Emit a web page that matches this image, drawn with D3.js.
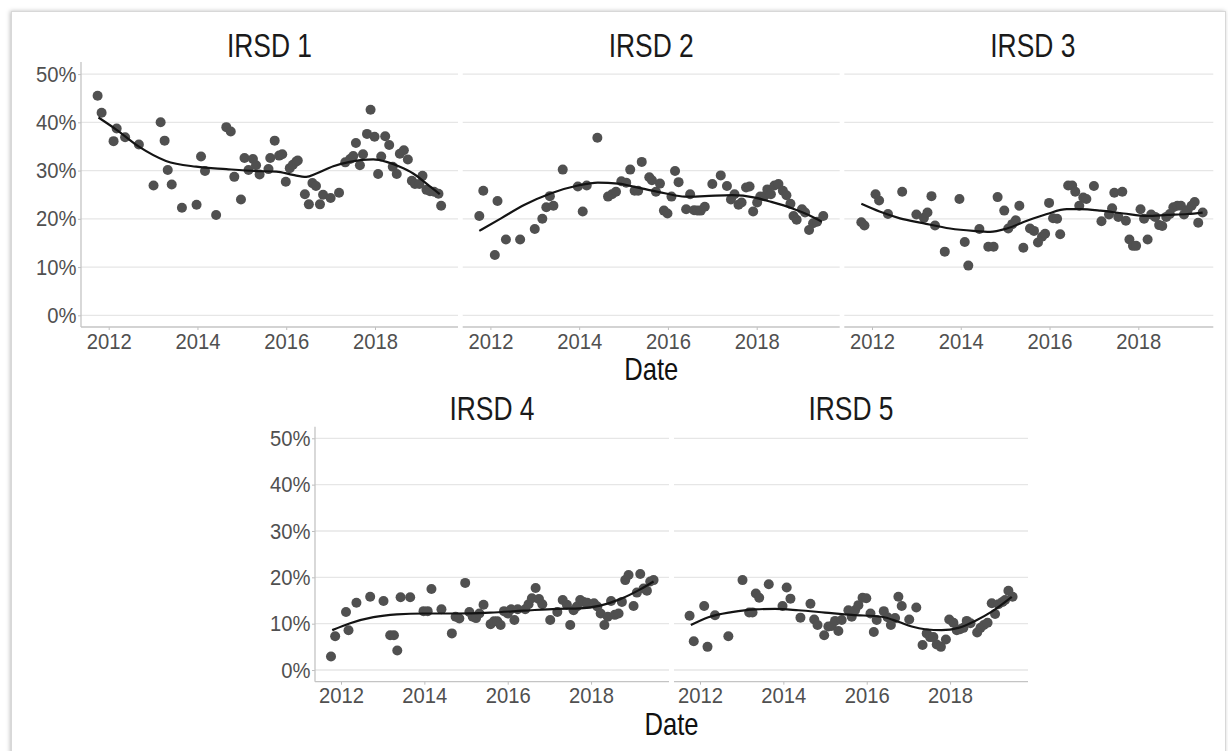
<!DOCTYPE html>
<html>
<head>
<meta charset="utf-8">
<script src="https://cdn.jsdelivr.net/npm/d3@7"></script>
<style>
  body { margin: 0; background: #fff; }
  svg { display: block; font-family: "Liberation Sans", Arial, sans-serif; }
</style>
</head>
<body>
<svg width="1228" height="751"></svg>
<script>
// decimal year, percent
var irsd1Points = [[2011.75,45.5],[2011.84,42.0],[2012.11,36.1],[2012.18,38.7],[2012.37,36.9],[2012.68,35.4],[2013.01,26.9],[2013.17,40.0],[2013.26,36.2],[2013.33,30.1],[2013.42,27.1],[2013.65,22.3],[2013.98,22.9],[2014.08,32.9],[2014.17,29.9],[2014.42,20.8],[2014.65,39.0],[2014.75,38.1],[2014.83,28.7],[2014.98,24.0],[2015.06,32.6],[2015.15,30.1],[2015.25,32.4],[2015.32,31.1],[2015.40,29.2],[2015.60,30.3],[2015.64,32.6],[2015.74,36.2],[2015.84,33.1],[2015.91,33.4],[2015.99,27.7],[2016.08,30.5],[2016.15,31.2],[2016.23,31.9],[2016.26,32.1],[2016.42,25.1],[2016.51,23.0],[2016.59,27.4],[2016.67,26.8],[2016.76,23.0],[2016.83,25.0],[2017.00,24.3],[2017.19,25.4],[2017.33,31.7],[2017.44,32.4],[2017.51,33.0],[2017.57,35.7],[2017.66,31.1],[2017.73,33.4],[2017.82,37.6],[2017.90,42.6],[2017.99,37.0],[2018.07,29.3],[2018.14,32.9],[2018.23,37.1],[2018.32,35.3],[2018.40,30.8],[2018.49,29.3],[2018.56,33.5],[2018.65,34.2],[2018.74,32.3],[2018.83,27.9],[2018.90,27.2],[2019.00,27.2],[2019.07,28.9],[2019.16,26.0],[2019.24,25.7],[2019.33,25.6],[2019.43,25.2],[2019.49,22.7]];
var irsd1Smooth = [[2011.77,41.0],[2012.17,38.5],[2012.69,34.9],[2013.29,32.0],[2013.97,30.8],[2014.65,30.3],[2015.33,29.9],[2015.78,29.8],[2016.15,29.1],[2016.45,28.7],[2016.68,29.4],[2017.06,30.9],[2017.43,31.8],[2017.96,32.3],[2018.26,31.8],[2018.56,30.8],[2018.86,29.4],[2019.16,27.3],[2019.46,25.1]];

var irsd2Points = [[2011.75,20.6],[2011.84,25.8],[2012.10,12.5],[2012.16,23.7],[2012.35,15.7],[2012.67,15.7],[2013.00,17.9],[2013.17,20.0],[2013.26,22.4],[2013.34,24.7],[2013.42,22.7],[2013.63,30.2],[2013.97,26.7],[2014.08,21.5],[2014.17,26.9],[2014.41,36.8],[2014.65,24.6],[2014.74,25.1],[2014.83,25.6],[2014.95,27.8],[2015.06,27.5],[2015.15,30.2],[2015.25,25.8],[2015.33,25.8],[2015.41,31.8],[2015.58,28.6],[2015.64,28.0],[2015.73,25.6],[2015.82,27.3],[2015.91,21.7],[2015.99,21.1],[2016.08,24.6],[2016.16,29.9],[2016.24,27.6],[2016.41,22.0],[2016.50,25.1],[2016.59,21.8],[2016.67,21.7],[2016.74,21.7],[2016.83,22.5],[2017.00,27.2],[2017.19,29.0],[2017.33,26.8],[2017.42,24.0],[2017.50,25.1],[2017.59,22.9],[2017.66,23.4],[2017.76,26.5],[2017.84,26.7],[2017.92,21.5],[2018.01,23.4],[2018.08,24.6],[2018.17,24.7],[2018.24,26.1],[2018.32,25.1],[2018.40,26.9],[2018.49,27.2],[2018.59,25.8],[2018.67,24.9],[2018.76,23.1],[2018.83,20.6],[2018.90,19.8],[2019.02,22.0],[2019.09,21.3],[2019.18,17.7],[2019.27,19.1],[2019.36,19.4],[2019.50,20.6]];
var irsd2Smooth = [[2011.75,17.5],[2012.24,20.1],[2012.77,22.9],[2013.37,25.3],[2013.97,26.9],[2014.42,27.5],[2014.88,27.3],[2015.40,26.3],[2015.93,25.3],[2016.38,24.6],[2016.83,24.7],[2017.44,24.9],[2017.96,24.4],[2018.33,23.5],[2018.79,22.2],[2019.17,20.8],[2019.47,19.4]];

var irsd3Points = [[2011.76,19.3],[2011.83,18.6],[2012.08,25.1],[2012.16,23.8],[2012.36,21.0],[2012.68,25.6],[2013.00,20.9],[2013.17,20.2],[2013.25,21.3],[2013.34,24.7],[2013.42,18.6],[2013.64,13.2],[2013.97,24.1],[2014.09,15.2],[2014.17,10.3],[2014.42,17.9],[2014.62,14.2],[2014.74,14.2],[2014.83,24.5],[2014.98,21.7],[2015.07,18.0],[2015.16,18.9],[2015.24,19.7],[2015.32,22.7],[2015.41,14.0],[2015.56,18.0],[2015.65,17.5],[2015.74,15.1],[2015.83,16.3],[2015.90,16.9],[2015.99,23.3],[2016.08,20.1],[2016.17,20.0],[2016.24,16.8],[2016.42,26.9],[2016.51,26.9],[2016.58,25.6],[2016.67,22.7],[2016.76,24.4],[2016.83,24.1],[2017.00,26.8],[2017.17,19.5],[2017.34,20.9],[2017.41,22.2],[2017.46,25.4],[2017.55,20.4],[2017.64,25.6],[2017.72,19.6],[2017.80,15.7],[2017.88,14.4],[2017.95,14.4],[2018.05,22.0],[2018.13,20.0],[2018.21,15.7],[2018.29,20.9],[2018.38,20.4],[2018.47,18.7],[2018.54,18.5],[2018.63,20.4],[2018.71,21.0],[2018.79,22.4],[2018.88,22.7],[2018.96,22.7],[2019.03,20.9],[2019.11,21.8],[2019.20,22.7],[2019.27,23.5],[2019.35,19.2],[2019.45,21.3]];
var irsd3Smooth = [[2011.76,23.1],[2012.17,21.5],[2012.63,20.1],[2013.15,19.1],[2013.76,18.0],[2014.28,17.5],[2014.66,17.3],[2015.04,18.0],[2015.49,19.6],[2015.94,21.0],[2016.39,22.0],[2016.69,22.0],[2017.15,21.7],[2017.67,21.1],[2018.20,20.6],[2018.65,20.8],[2019.11,21.0],[2019.45,21.3]];

var irsd4Points = [[2011.76,2.9],[2011.86,7.3],[2012.12,12.5],[2012.18,8.6],[2012.37,14.5],[2012.70,15.8],[2013.02,14.9],[2013.18,7.5],[2013.27,7.5],[2013.35,4.2],[2013.43,15.7],[2013.66,15.7],[2013.98,12.7],[2014.08,12.7],[2014.17,17.5],[2014.41,13.1],[2014.66,7.9],[2014.75,11.5],[2014.84,11.1],[2014.98,18.8],[2015.08,12.5],[2015.16,11.5],[2015.24,11.2],[2015.32,12.2],[2015.42,14.1],[2015.59,9.9],[2015.67,10.5],[2015.75,10.5],[2015.83,9.7],[2015.91,12.7],[2016.00,12.2],[2016.08,13.1],[2016.16,10.8],[2016.24,13.1],[2016.42,13.1],[2016.50,14.2],[2016.58,15.5],[2016.67,17.7],[2016.75,15.3],[2016.83,14.2],[2017.02,10.8],[2017.19,12.5],[2017.32,15.1],[2017.42,14.1],[2017.50,9.7],[2017.58,12.9],[2017.66,13.7],[2017.74,15.1],[2017.82,14.7],[2017.91,14.5],[2018.07,14.4],[2018.15,13.7],[2018.23,12.2],[2018.32,9.7],[2018.40,11.5],[2018.48,14.9],[2018.57,11.9],[2018.66,12.2],[2018.74,14.7],[2018.82,19.4],[2018.90,20.5],[2019.02,13.8],[2019.10,16.7],[2019.18,20.7],[2019.26,17.6],[2019.34,17.1],[2019.42,19.1],[2019.50,19.4]];
var irsd4Smooth = [[2011.79,8.6],[2012.22,10.1],[2012.78,11.4],[2013.34,12.0],[2013.98,12.2],[2014.78,12.2],[2015.58,12.4],[2016.38,12.8],[2017.18,13.2],[2017.74,13.3],[2018.22,13.9],[2018.70,15.3],[2019.18,17.4],[2019.50,19.1]];

var irsd5Points = [[2011.75,11.7],[2011.85,6.2],[2012.10,13.8],[2012.18,5.0],[2012.36,11.8],[2012.68,7.3],[2013.02,19.4],[2013.18,12.4],[2013.26,12.4],[2013.34,16.5],[2013.42,15.6],[2013.65,18.5],[2013.98,13.8],[2014.08,17.8],[2014.17,15.4],[2014.41,11.3],[2014.65,14.3],[2014.74,10.9],[2014.82,9.7],[2014.98,7.5],[2015.08,9.4],[2015.16,9.5],[2015.24,10.6],[2015.32,8.4],[2015.40,10.8],[2015.56,12.9],[2015.64,11.5],[2015.72,12.9],[2015.80,14.0],[2015.90,15.6],[2015.99,15.5],[2016.09,12.2],[2016.17,8.2],[2016.24,10.8],[2016.41,12.7],[2016.50,11.4],[2016.58,9.7],[2016.68,11.2],[2016.76,15.8],[2016.84,13.8],[2017.02,10.9],[2017.19,13.5],[2017.34,5.4],[2017.44,7.9],[2017.52,7.1],[2017.60,7.1],[2017.68,5.5],[2017.78,5.0],[2017.90,6.6],[2017.98,10.9],[2018.08,10.2],[2018.16,8.6],[2018.24,8.8],[2018.32,9.1],[2018.40,10.6],[2018.49,10.1],[2018.65,8.1],[2018.73,9.1],[2018.81,9.7],[2018.90,10.2],[2019.00,14.4],[2019.08,12.1],[2019.16,14.2],[2019.26,14.7],[2019.32,15.1],[2019.40,17.1],[2019.50,15.8]];
var irsd5Smooth = [[2011.78,9.7],[2012.20,11.4],[2012.76,12.5],[2013.32,13.1],[2013.80,13.2],[2014.36,12.9],[2015.00,12.4],[2015.64,11.9],[2016.36,11.5],[2016.76,10.4],[2017.08,9.4],[2017.40,8.8],[2017.80,8.6],[2018.20,9.1],[2018.60,10.6],[2019.00,12.6],[2019.48,15.8]];

var panelTitles = ["IRSD 1", "IRSD 2", "IRSD 3", "IRSD 4", "IRSD 5"];
var xTicks = [2012, 2014, 2016, 2018];
var yTicks = [0, 10, 20, 30, 40, 50];
var xTitle = "Date";

var svg = d3.select('svg');

// frame with soft shadow
var defs = svg.append('defs');
var f = defs.append('filter').attr('id', 'shadow').attr('x', '-5%').attr('y', '-5%').attr('width', '110%').attr('height', '110%');
f.append('feDropShadow').attr('dx', -1).attr('dy', 0).attr('stdDeviation', 2).attr('flood-color', '#000').attr('flood-opacity', 0.25);
svg.append('rect').attr('x', 11.5).attr('y', 11.5).attr('width', 1214).attr('height', 760)
    .attr('fill', '#fff').attr('stroke', '#d8d8d8').attr('filter', 'url(#shadow)');

var rows = [
    { top: 62, bottom: 327, ymin: -2.42, lefts: [81, 462.7, 844.3], width: 377, visible: [377, 377, 369], titleY: 57, labelY: 380 },
    { top: 426.7, bottom: 681.7, ymin: -2.52, lefts: [315, 674], width: 354, visible: [354, 354], titleY: 420, labelY: 735 }
];

var panels = [
    { title: panelTitles[0], points: irsd1Points, smooth: irsd1Smooth, row: 0, col: 0 },
    { title: panelTitles[1], points: irsd2Points, smooth: irsd2Smooth, row: 0, col: 1 },
    { title: panelTitles[2], points: irsd3Points, smooth: irsd3Smooth, row: 0, col: 2 },
    { title: panelTitles[3], points: irsd4Points, smooth: irsd4Smooth, row: 1, col: 0 },
    { title: panelTitles[4], points: irsd5Points, smooth: irsd5Smooth, row: 1, col: 1 }
];

function styleTicks(sel) {
    sel.selectAll('.tick line').attr('stroke', '#bdbdbd');
    sel.selectAll('.tick text').attr('fill', '#505050').style('font-size', '22px')
        .attr('transform', 'scale(0.92,1)');
}

panels.forEach(function (p, i) {
    var r = rows[p.row];
    var left = r.lefts[p.col], vis = r.visible[p.col];
    var x = d3.scaleLinear().domain([2011.376, 2019.87]).range([left, left + r.width]);
    var y = d3.scaleLinear().domain([r.ymin, 52.5]).range([r.bottom, r.top]);

    var g = svg.append('g');
    defs.append('clipPath').attr('id', 'clip' + i).append('rect')
        .attr('x', left).attr('y', r.top).attr('width', vis).attr('height', r.bottom - r.top);

    // grid
    g.selectAll('line.grid').data(yTicks).enter().append('line')
        .attr('x1', left).attr('x2', left + vis)
        .attr('y1', function (d) { return y(d); }).attr('y2', function (d) { return y(d); })
        .attr('stroke', '#e6e6e6').attr('stroke-width', 1.3);

    // x axis
    var xa = g.append('g').attr('transform', 'translate(0,' + r.bottom + ')')
        .call(d3.axisBottom(x).tickValues(xTicks).tickFormat(d3.format('d')).tickSize(3).tickPadding(3));
    xa.select('.domain').remove();
    xa.append('line').attr('x1', left).attr('x2', left + vis).attr('stroke', '#c4c4c4').attr('stroke-width', 1.3);
    styleTicks(xa);

    // y axis on the left column only
    if (p.col === 0) {
        var ya = g.append('g').attr('transform', 'translate(' + left + ',0)')
            .call(d3.axisLeft(y).tickValues(yTicks).tickFormat(function (d) { return d + '%'; }).tickSize(3).tickPadding(2));
        ya.select('.domain').remove();
        ya.append('line').attr('y1', r.top).attr('y2', r.bottom).attr('stroke', '#c4c4c4').attr('stroke-width', 1.3);
        styleTicks(ya);
    }

    var plot = g.append('g').attr('clip-path', 'url(#clip' + i + ')');
    plot.selectAll('circle').data(p.points).enter().append('circle')
        .attr('cx', function (d) { return x(d[0]); })
        .attr('cy', function (d) { return y(d[1]); })
        .attr('r', 5)
        .attr('fill', '#505050');

    plot.append('path').datum(p.smooth)
        .attr('fill', 'none').attr('stroke', '#141414').attr('stroke-width', 2.2)
        .attr('d', d3.line().curve(d3.curveMonotoneX)
            .x(function (d) { return x(d[0]); })
            .y(function (d) { return y(d[1]); }));

    // strip title
    svg.append('text')
        .attr('transform', 'translate(' + (left + r.width / 2) + ',' + r.titleY + ') scale(0.8,1)')
        .attr('text-anchor', 'middle').attr('fill', '#1a1a1a').style('font-size', '33px')
        .text(p.title);
});

// x axis titles, centred on each row
rows.forEach(function (r) {
    var l = r.lefts[0], rt = r.lefts[r.lefts.length - 1] + r.width;
    var cx = r.lefts.length === 3 ? r.lefts[1] + r.width / 2 : (l + rt) / 2;
    svg.append('text')
        .attr('transform', 'translate(' + cx + ',' + r.labelY + ') scale(0.8,1)')
        .attr('text-anchor', 'middle').attr('fill', '#111').style('font-size', '32px')
        .text(xTitle);
});
</script>
</body>
</html>
